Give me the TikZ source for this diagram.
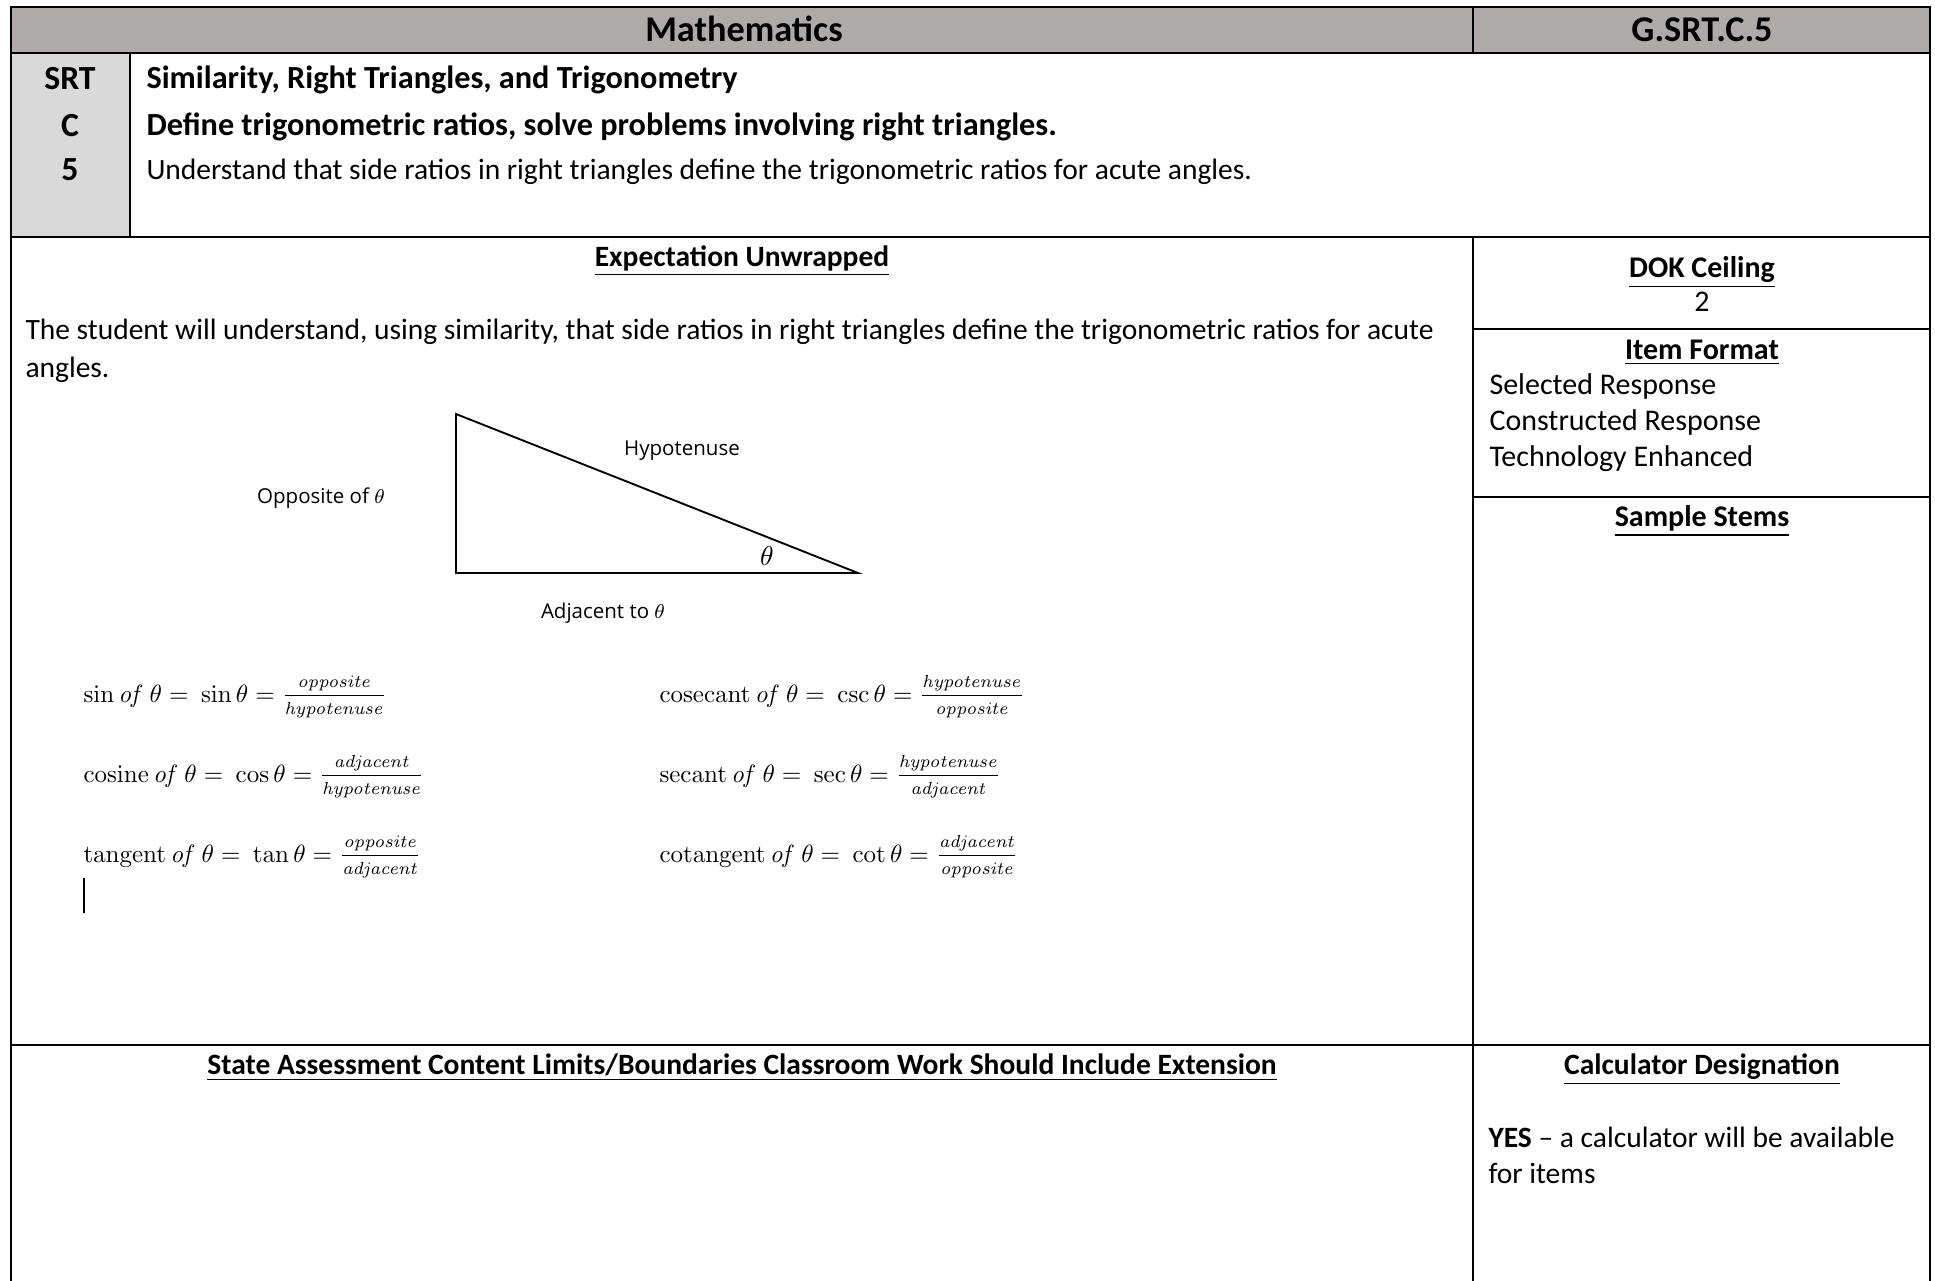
\documentclass[tikz,border=0pt]{standalone}
\usepackage{amsmath}
\usepackage[no-math]{fontspec}
\setmainfont{Carlito}
\newfontfamily\figfont{Open Sans}
\definecolor{hdrgray}{RGB}{174,170,170}
\definecolor{srtgray}{RGB}{217,217,217}
\newcommand\hdsize{\fontsize{14.5}{17.4}\selectfont}
\newcommand\codesize{\fontsize{13.5}{16.2}\selectfont}
\newcommand\midsize{\fontsize{12}{14.6}\selectfont}
\newcommand\strsize{\fontsize{12.9}{15.5}\selectfont}
\newcommand\bodysize{\fontsize{11.8}{14.2}\selectfont}
\newcommand\mathsize{\fontsize{9.9}{12}\selectfont}
\newcommand\figsize{\fontsize{8.2}{9.8}\selectfont}
\newcommand\ratio[2]{\frac{\mathit{#1}\rule[-2.6pt]{0pt}{0pt}}{\rule{0pt}{6.8pt}\mathit{#2}}}

\begin{document}
\begin{tikzpicture}[x=0.4pt,y=0.4pt,yscale=-1,every node/.style={inner sep=0pt}]
\useasboundingbox (0,0) rectangle (1935,1281);

%Shaded header band
\fill [hdrgray] (11,7) rectangle (1930,53);
%Shaded code column
\fill [srtgray] (11,53) rectangle (130,237);

%Straight Lines [frame]
\draw [line width=0.85pt] (11,1281) -- (11,7) -- (1930,7) -- (1930,1281);
\draw [line width=0.85pt] (11,53) -- (1930,53);
\draw [line width=0.85pt] (1473,7) -- (1473,53);
\draw [line width=0.85pt] (130,53) -- (130,237);
\draw [line width=0.85pt] (11,237) -- (1930,237);
\draw [line width=0.85pt] (11,1045) -- (1930,1045);
%Straight Lines [right column]
\draw [line width=0.6pt] (1473,237) -- (1473,1281);
\draw [line width=0.6pt] (1473,329) -- (1930,329);
\draw [line width=0.6pt] (1473,497) -- (1930,497);

% Text Node
\node (subj) at (744,41) [anchor=base] {\hdsize\bfseries Mathematics};
% Text Node
\node (code) at (1702,41) [anchor=base] {\hdsize\bfseries G.SRT.C.5};
% Text Node
\node (srt) at (70,89) [anchor=base] {\codesize\bfseries SRT};
% Text Node
\node (clus) at (70,136) [anchor=base] {\codesize\bfseries C};
% Text Node
\node (stdn) at (70,180) [anchor=base] {\codesize\bfseries 5};
% Text Node
\node (dom) at (146,88) [anchor=base west] {\strsize\bfseries Similarity, Right Triangles, and Trigonometry};
% Text Node
\node (cl) at (146,135) [anchor=base west] {\strsize\bfseries Define trigonometric ratios, solve problems involving right triangles.};
% Text Node
\node (st) at (146,179) [anchor=base west] {\bodysize Understand that side ratios in right triangles define the trigonometric ratios for acute angles.};

% Text Node
\node (expt) at (742,266) [anchor=base] {\bodysize\bfseries\underline{Expectation Unwrapped}};
% Text Node
\node (expa) at (25,339) [anchor=base west] {\bodysize The student will understand, using similarity, that side ratios in right triangles define the trigonometric ratios for acute};
% Text Node
\node (expb) at (25,377) [anchor=base west] {\bodysize angles.};

%Triangle
\coordinate (tA) at (456,414);
\coordinate (tB) at (456,573);
\coordinate (tC) at (858,573);
\draw [line width=0.75pt, line join=miter] (tA) -- (tB) -- (tC) -- cycle;
% Text Node
\node (hyp) at (682,455) [anchor=base] {\figsize\figfont Hypotenuse};
% Text Node
\node (opp) at (321,503) [anchor=base] {\figsize\figfont Opposite of $\theta$};
% Text Node
\node (adj) at (603,618) [anchor=base] {\figsize\figfont Adjacent to $\theta$};
% Text Node
\node (ang) at (767,565) [anchor=base] {\fontsize{10.5}{12.6}\selectfont$\theta$};

% Text Node
\node (fsin) at (83,702) [anchor=base west] {\mathsize$\sin\mathit{of}\ \theta =\ \sin\theta = \ratio{opposite}{hypotenuse}$};
% Text Node
\node (fcos) at (83,782) [anchor=base west] {\mathsize$\mathrm{cosine}\,\mathit{of}\ \theta =\ \cos\theta = \ratio{adjacent}{hypotenuse}$};
% Text Node
\node (ftan) at (83,862) [anchor=base west] {\mathsize$\mathrm{tangent}\,\mathit{of}\ \theta =\ \tan\theta = \ratio{opposite}{adjacent}$};
% Text Node
\node (fcsc) at (659,702) [anchor=base west] {\mathsize$\mathrm{cosecant}\,\mathit{of}\ \theta =\ \csc\theta = \ratio{hypotenuse}{opposite}$};
% Text Node
\node (fsec) at (659,782) [anchor=base west] {\mathsize$\mathrm{secant}\,\mathit{of}\ \theta =\ \sec\theta = \ratio{hypotenuse}{adjacent}$};
% Text Node
\node (fcot) at (659,862) [anchor=base west] {\mathsize$\mathrm{cotangent}\,\mathit{of}\ \theta =\ \cot\theta = \ratio{adjacent}{opposite}$};
%Text cursor
\draw [line width=0.6pt] (84,878) -- (84,913);

% Text Node
\node (dok) at (1702,277) [anchor=base] {\midsize\bfseries\underline{DOK Ceiling}};
% Text Node
\node (dokv) at (1702,311) [anchor=base] {\midsize 2};
% Text Node
\node (fmt) at (1702,359) [anchor=base] {\midsize\bfseries\underline{Item Format}};
% Text Node
\node (fmta) at (1489,394) [anchor=base west] {\midsize Selected Response};
% Text Node
\node (fmtb) at (1489,430) [anchor=base west] {\midsize Constructed Response};
% Text Node
\node (fmtc) at (1489,466) [anchor=base west] {\midsize Technology Enhanced};
% Text Node
\node (stem) at (1702,526) [anchor=base] {\midsize\bfseries\underline{Sample Stems}};

% Text Node
\node (lim) at (742,1074) [anchor=base] {\bodysize\bfseries\underline{State Assessment Content Limits/Boundaries Classroom Work Should Include Extension}};
% Text Node
\node (calc) at (1702,1074) [anchor=base] {\bodysize\bfseries\underline{Calculator Designation}};
% Text Node
\node (calca) at (1488,1147) [anchor=base west] {\bodysize\textbf{YES} -- a calculator will be available};
% Text Node
\node (calcb) at (1488,1183) [anchor=base west] {\bodysize for items};

\end{tikzpicture}
\end{document}
